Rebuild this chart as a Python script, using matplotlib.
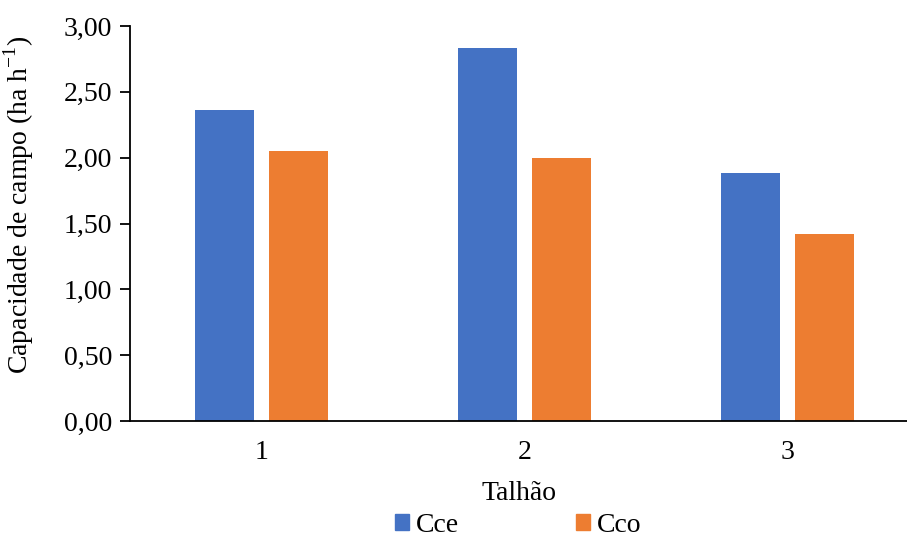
import matplotlib
matplotlib.use("Agg")
import matplotlib.pyplot as plt
import numpy as np
from matplotlib.patches import Patch

plt.rcParams['font.family'] = ['Liberation Serif', 'DejaVu Serif']
plt.rcParams['mathtext.fontset'] = 'custom'
plt.rcParams['mathtext.rm'] = 'Liberation Serif'

talhoes = ["1", "2", "3"]
cce = [2.36, 2.83, 1.88]
cco = [2.05, 2.00, 1.42]
y_ticks = [0.0, 0.5, 1.0, 1.5, 2.0, 2.5, 3.0]

blue = "#4472C4"
orange = "#ED7D31"

W, H = 907, 538
fs = 20
fig = plt.figure(figsize=(W / 100, H / 100), dpi=100)
ax = fig.add_axes([130 / W, 1 - 421 / H, 1 - 130 / W, (421 - 26) / H])

x = np.arange(len(talhoes))
bw = 0.226
off = 0.141
ax.bar(x - off, cce, bw, color=blue, label="Cce")
ax.bar(x + off, cco, bw, color=orange, label="Cco")

ax.set_xlim(-0.5, -0.5 + (W - 130) / 263)
ax.set_ylim(0, 3.0)
ax.set_yticks(y_ticks)
ax.set_yticklabels([f"{v:.2f}".replace(".", ",") for v in y_ticks])
ax.set_xticks(x)
ax.set_xticklabels(talhoes)

for s in ["top", "right"]:
    ax.spines[s].set_visible(False)
ax.spines["left"].set_linewidth(1.3)
ax.spines["bottom"].set_linewidth(1.3)
ax.tick_params(axis="y", length=7, width=1.3, labelsize=fs, pad=6)
ax.tick_params(axis="x", length=0, labelsize=fs, pad=14)

ax.set_xlabel("Talhão", fontsize=fs, labelpad=11)
ax.set_ylabel("Capacidade de campo (ha h$^{\\mathrm{-1}}$)", fontsize=fs)
ax.yaxis.set_label_coords(-(130 - 36) / (W - 130), (421 - 205) / (421 - 26))

handles = [Patch(color=blue, label="Cce"), Patch(color=orange, label="Cco")]
fig.legend(handles=handles, loc="center", bbox_to_anchor=(518 / W, 1 - 525 / H),
           ncol=2, frameon=False, fontsize=fs, handlelength=0.5, handleheight=0.5,
           handletextpad=0.25, columnspacing=4.2)

fig.savefig("out.png", dpi=100)
